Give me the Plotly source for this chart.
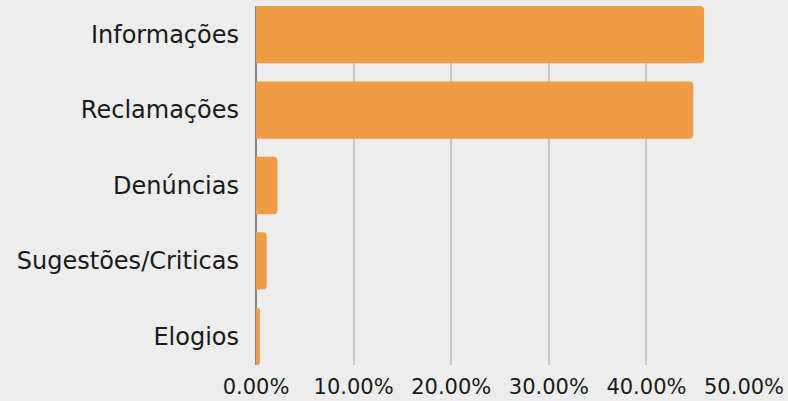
import plotly.graph_objects as go

categories = ["Informações", "Reclamações", "Denúncias", "Sugestões/Criticas", "Elogios"]
values = [0.459, 0.448, 0.022, 0.011, 0.004]
tick_vals = [0, 0.1, 0.2, 0.3, 0.4, 0.5]
tick_text = ["0.00%", "10.00%", "20.00%", "30.00%", "40.00%", "50.00%"]

fig = go.Figure(go.Bar(
    x=values, y=categories, orientation="h",
    marker=dict(color="#F09C45", line=dict(width=0)),
    width=0.76,
))

fig.update_layout(
    width=788, height=401,
    margin=dict(l=256, r=43, t=6, b=36, autoexpand=False),
    paper_bgcolor="#EDEDED", plot_bgcolor="#EDEDED",
    font=dict(family="DejaVu Sans", size=21, color="#1a1a1a"),
    barcornerradius=4,
    showlegend=False,
)
fig.update_xaxes(
    range=[0, 0.501], tickvals=tick_vals, ticktext=tick_text,
    showgrid=True, gridcolor="#C8C8C8", gridwidth=1.5,
    zeroline=True, zerolinecolor="#888888", zerolinewidth=1.5,
    ticks="", ticklabelstandoff=7, automargin=False,
    tickfont=dict(size=21),
)
fig.update_yaxes(
    categoryorder="array", categoryarray=categories[::-1],
    range=[-0.38, 4.38], showgrid=False, zeroline=False,
    ticks="", ticklabelstandoff=16, automargin=False,
    tickfont=dict(size=24),
)

fig.write_html(
    "out.html",
    config={"displayModeBar": False},
    post_script="document.body.style.margin='0';document.body.style.overflow='hidden';",
)
